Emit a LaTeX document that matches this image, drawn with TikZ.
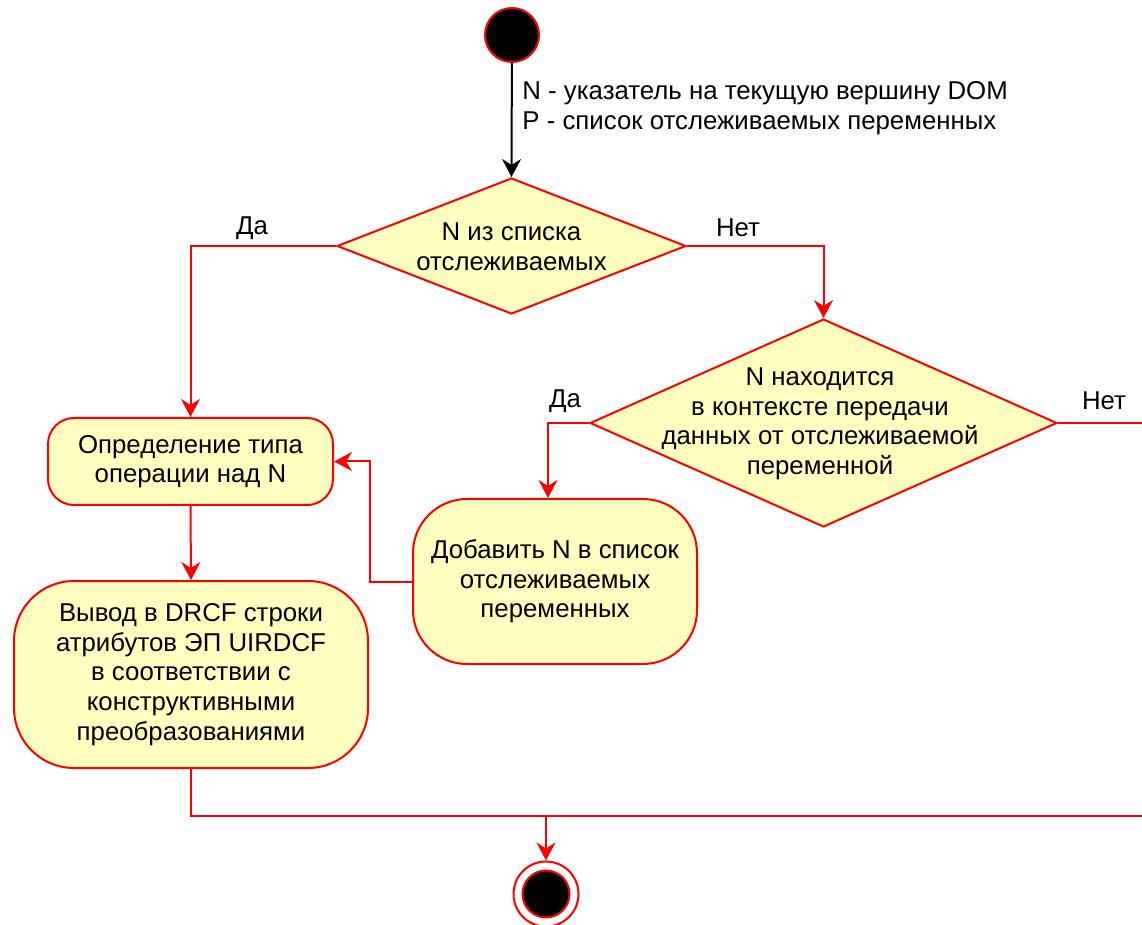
\documentclass[tikz,border=0pt]{standalone}
\usepackage{fontspec}
\setmainfont{Liberation Sans}
\usetikzlibrary{shapes.geometric, arrows.meta}

\definecolor{actfill}{HTML}{FFFFC0}
\definecolor{actline}{HTML}{FF0000}

\begin{document}
\begin{tikzpicture}[x=0.5pt, y=-0.5pt,
        every node/.style={font=\fontsize{12.9}{14.8}\selectfont, align=center, inner sep=0pt},
        action/.style={rectangle, draw=actline, fill=actfill, line width=1pt},
        decision/.style={diamond, draw=actline, fill=actfill, line width=1pt},
        flow/.style={draw=actline, line width=1pt, -{Stealth[length=9pt, width=9.5pt, inset=3pt]}},
        link/.style={draw=actline, line width=1pt}]
                    \clip (0, 0) rectangle (1142, 925);

                    \node[circle, draw=actline, fill=black, line width=1pt, minimum size=27pt] (start) at (512, 35) {};

                    \node[decision, minimum width=174.5pt, minimum height=68pt] (d1) at (511.5, 246) {};
                    \node (d1text) at (511.5, 247) {N из списка\\отслеживаемых};

                    \node[decision, minimum width=233.5pt, minimum height=104pt] (d2) at (823.5, 423) {};
                    \node (d2text) at (820, 424) {N находится\\в контексте передачи\\данных от отслеживаемой\\переменной};

                    \node[action, rounded corners=13pt, minimum width=142.5pt, minimum height=43.5pt] (r1) at (190.5, 461.5) {Определение типа\\операции над N};
                    \node[action, rounded corners=27pt, minimum width=142pt, minimum height=82.5pt] (r2) at (555, 581.5) {Добавить N в список\\отслеживаемых\\переменных};
                    \node[action, rounded corners=30pt, minimum width=177pt, minimum height=93.5pt] (r3) at (191, 674.5) {Вывод в DRCF строки\\атрибутов ЭП UIRDCF\\в соответствии с\\конструктивными\\преобразованиями};

                    \node[circle, draw=actline, fill=white, line width=1pt, minimum size=32.5pt] (stop) at (546, 894) {};
                    \node[circle, draw=actline, fill=black, line width=1pt, minimum size=23.5pt] (stopin) at (546, 894) {};

                    \coordinate (merge) at (1170, 816);
                    \coordinate (join) at (546, 816);

                    \draw[line width=1pt, -{Stealth[length=9pt, width=9.5pt, inset=3pt]}] (start) -- (d1.north);
                    \node[anchor=west, align=left] (note) at (522, 108) {N - указатель на текущую вершину DOM\\P - список отслеживаемых переменных};

                    \draw[flow] (d1.west) -| (r1.north);
                    \draw[flow] (d1.east) -| (d2.north);
                    \draw[flow] (d2.west) -| ([xshift=-3.5pt]r2.north);
                    \draw[link] (d2.east) -| (merge);
                    \draw[flow] (r2.west) -- ++(-21pt, 0) |- (r1.east);
                    \draw[flow] (r1.south) -- (r3.north);
                    \draw[link] (r3.south) |- (merge);
                    \draw[flow] (join) -- (stop.north);

                    \node (yes1) at (252, 228) {Да};
                    \node (no1) at (738, 228) {Нет};
                    \node (yes2) at (565, 401) {Да};
                    \node (no2) at (1104, 401) {Нет};
                \end{tikzpicture}
\end{document}
